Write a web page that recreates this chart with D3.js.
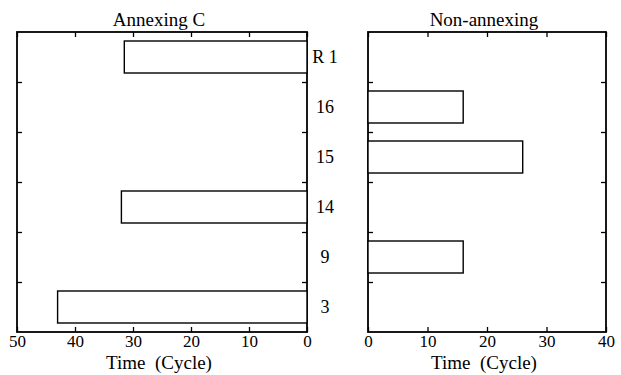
<!DOCTYPE html>
<html>
<head>
<meta charset="utf-8">
<script src="https://cdn.jsdelivr.net/npm/d3@7"></script>
<style>
  body { margin: 0; background: #fff; }
  svg { display: block; }
  svg text { font-family: "Liberation Serif", "DejaVu Serif", serif; }
  .tick line { stroke: #000; stroke-width: 1.3; }
  .domain { display: none; }
</style>
</head>
<body>
<div class="chart-container"></div>
<script>
const totalWidth = 621;
const totalHeight = 375;

const categories = ["R 1", "16", "15", "14", "9", "3"];
const annexing = [31.5, null, null, 32, null, 43];
const nonAnnexing = [null, 16, 26, null, 16, null];
const leftTicks = [50, 40, 30, 20, 10, 0];
const rightTicks = [0, 10, 20, 30, 40];

const plotTop = 32, plotBottom = 332;

const svg = d3.select(".chart-container")
    .append("svg")
    .attr("width", totalWidth)
    .attr("height", totalHeight);

const scaleY = d3.scaleBand()
    .domain(categories)
    .range([plotTop, plotBottom])
    .paddingInner(0.36)
    .paddingOuter(0.18);

// row boundaries for the side ticks
const rowEdge = d3.scaleLinear().domain([0, categories.length]).range([plotTop, plotBottom]);
const edges = d3.range(1, categories.length);

function panel(scaleX, values, ticks, title) {
    const x0 = scaleX.range()[0], x1 = scaleX.range()[1];
    const g = svg.append("g");

    g.append("g")
        .attr("transform", `translate(0,${plotBottom})`)
        .call(d3.axisBottom(scaleX).tickValues(ticks).tickSizeInner(-5).tickSizeOuter(0).tickPadding(3))
        .call(a => a.selectAll("text").attr("font-size", 17).attr("fill", "#000"));

    g.append("g")
        .attr("transform", `translate(0,${plotTop})`)
        .call(d3.axisTop(scaleX).tickValues(ticks).tickSizeInner(-5).tickSizeOuter(0).tickFormat(""));

    g.append("g")
        .attr("transform", `translate(${Math.min(x0, x1)},0)`)
        .call(d3.axisLeft(rowEdge).tickValues(edges).tickSizeInner(-5).tickSizeOuter(0).tickFormat(""));

    g.append("g")
        .attr("transform", `translate(${Math.max(x0, x1)},0)`)
        .call(d3.axisRight(rowEdge).tickValues(edges).tickSizeInner(-5).tickSizeOuter(0).tickFormat(""));

    g.append("rect")
        .attr("x", Math.min(x0, x1))
        .attr("y", plotTop)
        .attr("width", Math.abs(x1 - x0))
        .attr("height", plotBottom - plotTop)
        .attr("fill", "none")
        .attr("stroke", "#000")
        .attr("stroke-width", 1.8);

    const rows = categories.map((c, i) => ({cat: c, val: values[i]})).filter(d => d.val != null);
    g.selectAll(".bar")
        .data(rows)
        .enter()
        .append("rect")
        .attr("class", "bar")
        .attr("x", d => Math.min(scaleX(0), scaleX(d.val)))
        .attr("y", d => scaleY(d.cat))
        .attr("width", d => Math.abs(scaleX(d.val) - scaleX(0)))
        .attr("height", scaleY.bandwidth())
        .attr("fill", "#fff")
        .attr("stroke", "#000")
        .attr("stroke-width", 1.4);

    const cx = (x0 + x1) / 2;
    g.append("text")
        .attr("x", cx - 3)
        .attr("y", 26)
        .attr("text-anchor", "middle")
        .attr("font-size", 19)
        .text(title);

    g.append("text")
        .attr("x", cx - 3)
        .attr("y", 369)
        .attr("text-anchor", "middle")
        .attr("font-size", 19)
        .style("white-space", "pre")
        .text("Time  (Cycle)");
}

panel(d3.scaleLinear().domain([50, 0]).range([17, 307]), annexing, leftTicks, "Annexing C");
panel(d3.scaleLinear().domain([0, 40]).range([368, 606]), nonAnnexing, rightTicks, "Non-annexing");

svg.append("g")
    .selectAll("text")
    .data(categories)
    .enter()
    .append("text")
    .attr("x", 325)
    .attr("y", d => scaleY(d) + scaleY.bandwidth() / 2 + 6)
    .attr("text-anchor", "middle")
    .attr("font-size", 18)
    .style("white-space", "pre")
    .text(d => d);
</script>
</body>
</html>
